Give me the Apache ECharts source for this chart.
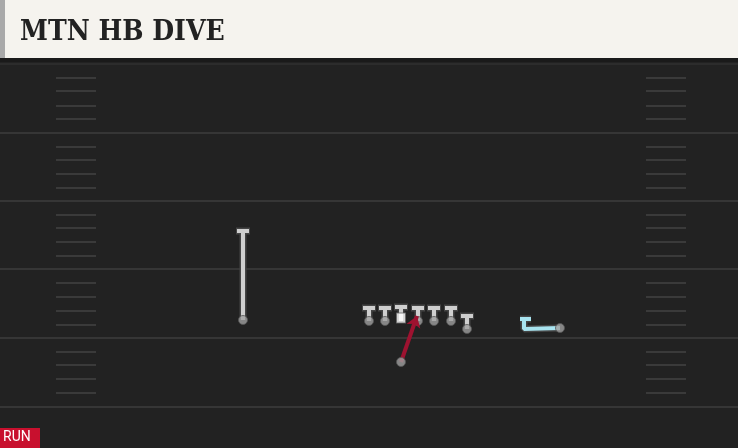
<!DOCTYPE html><html><head><meta charset="utf-8">
<script src="https://cdn.jsdelivr.net/npm/echarts@6/dist/echarts.min.js"></script>
<style>html,body{margin:0;padding:0;background:#222}#c{width:738px;height:448px}</style></head><body><div id="c"></div>
<script>
const title = "MTN HB DIVE";
const tag = "RUN";
const yardLines = [64, 133, 201, 269, 338, 407];
const hashRows = [78,91,106,119,147,160,174,188,215,228,242,256,283,297,311,325,352,365,379,393];
const hashCols = [[56,96],[646,686]];
// linemen [x, baseY, topY]
const linemen = [[369,321,308],[385,321,308],[418,321,308],[434,321,308],[451,321,308],[467,329,316]];
const center = [401,321,307];
const wrLeft = [243,320,231];
const rbRoute = [[401,362],[417,316]];
const wrRightRoute = [[560,328],[524,329],[524,319]];
const wrRightBar = [[520,319],[531,319]];

const chart = echarts.init(document.getElementById('c'));
const series = [];
function seg(pts, color, width, z){
  series.push({type:'line', data:pts, symbol:'none', silent:true, z:z||3,
    lineStyle:{color, width, cap:'butt'}, animation:false});
}
yardLines.forEach((y,i)=>seg([[0,y],[738,y]], i===0?'#2c2c2c':'#363636', 2, 1));
hashRows.forEach(y=>hashCols.forEach(c=>seg([[c[0],y],[c[1],y]], '#3a3a3a', 2, 1)));
function tee(p, col){
  seg([[p[0],p[1]],[p[0],p[2]-1]], '#444', 7, 2);
  seg([[p[0],p[1]],[p[0],p[2]]], col, 4, 3);
  seg([[p[0]-7,p[2]],[p[0]+7,p[2]]], '#444', 7, 2);
  seg([[p[0]-6,p[2]],[p[0]+6,p[2]]], col, 4, 3);
}
linemen.forEach(p=>tee(p,'#cfcfcf'));
tee(center,'#cfcfcf');
tee(wrLeft,'#cfcfcf');
series.push({type:'scatter', silent:true, z:4, animation:false, symbolSize:9,
  itemStyle:{color:'#a0a0a0', borderColor:'#555', borderWidth:1},
  data: linemen.concat([wrLeft]).map(p=>[p[0],p[1]])});
series.push({type:'scatter', silent:true, z:5, animation:false, symbol:'rect', symbolSize:[9,10],
  itemStyle:{color:'#ffffff', borderColor:'#666', borderWidth:1}, data:[[center[0],center[1]-3]]});
series.push({type:'lines', coordinateSystem:'cartesian2d', silent:true, z:6, animation:false,
  symbol:['none','arrow'], symbolSize:11,
  lineStyle:{color:'#9e1230', width:4, opacity:1},
  data:[{coords:rbRoute}]});
seg(wrRightRoute, '#444', 7, 5);
seg(wrRightRoute, '#a8e4f0', 4, 6);
seg(wrRightBar, '#444', 7, 5);
seg(wrRightBar, '#a8e4f0', 4, 6);
series.push({type:'scatter', silent:true, z:7, animation:false, symbolSize:9,
  itemStyle:{color:'#a0a0a0', borderColor:'#555', borderWidth:1}, data:[rbRoute[0], wrRightRoute[0]]});

chart.setOption({
  backgroundColor:'#222222',
  animation:false,
  grid:{left:0,right:0,top:0,bottom:0},
  xAxis:{type:'value',min:0,max:738,show:false},
  yAxis:{type:'value',min:0,max:448,inverse:true,show:false},
  graphic:[
    {type:'rect', shape:{x:0,y:0,width:738,height:58}, style:{fill:'#f5f3ee'}, z:10},
    {type:'rect', shape:{x:0,y:0,width:5,height:58}, style:{fill:'#a9a9a9'}, z:11},
    {type:'rect', shape:{x:0,y:58,width:738,height:4}, style:{fill:'#1a1a1a'}, z:10},
    {type:'text', left:20, top:19, z:12, style:{text:title, fill:'#222', font:'bold 28px "DejaVu Serif Condensed", "DejaVu Serif", serif'}},
    {type:'rect', shape:{x:0,y:428,width:40,height:20}, style:{fill:'#c8102e'}, z:10},
    {type:'text', left:3, top:430, z:12, style:{text:tag, fill:'#fff', font:'14px Roboto, sans-serif'}}
  ],
  series
});
</script></body></html>
